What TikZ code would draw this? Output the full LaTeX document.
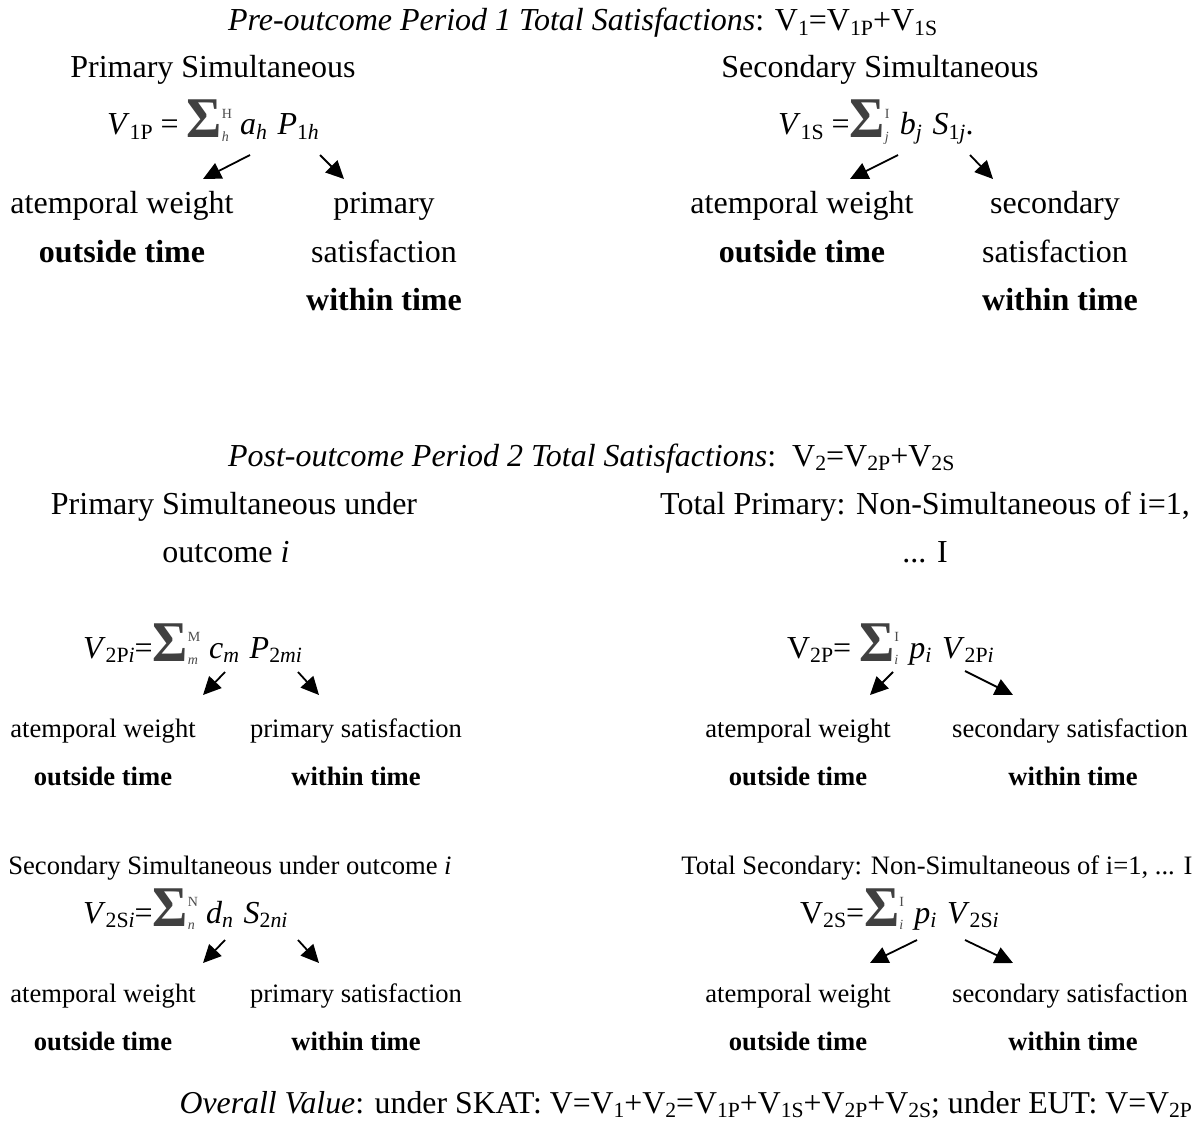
\documentclass[tikz,border=0pt]{standalone}
\usepackage{fontspec}
\usepackage{graphicx}
\setmainfont{Liberation Serif}
\usetikzlibrary{arrows.meta}
\newcommand{\sgm}[2]{\raisebox{-3pt}{\color{black!75}\scalebox{1.12}[1.2]{\fontsize{48}{48}\selectfont\bfseries Σ}}\makebox[0pt][l]{\raisebox{17pt}{\color{black!70}\fontsize{14}{14}\selectfont #1}}\raisebox{-6pt}{\color{black!70}\fontsize{14}{14}\selectfont\itshape #2}\hspace{0.35em}}
\newcommand{\sbs}[1]{\raisebox{-0.14em}{\scalebox{0.68}{#1}}}
\begin{document}
\begin{tikzpicture}[x=1pt,y=-1pt,
  every node/.style={inner sep=0pt,outer sep=0pt,anchor=base},
  big/.style={font=\fontsize{32}{38}\selectfont},
  sml/.style={font=\fontsize{26.6}{32}\selectfont},
  bsml/.style={font=\fontsize{26.6}{32}\selectfont\bfseries},
  bbig/.style={font=\fontsize{32}{38}\selectfont\bfseries},
  arr/.style={line width=1.8pt,-{Triangle[length=18pt,width=17pt]}}]
\useasboundingbox[fill=white] (0,0) rectangle (1193,1121);

% ---- Period 1 ----
\node[big,anchor=base west] (t1) at (228,31) {\textit{Pre-outcome Period 1 Total Satisfactions}: V\sbs{1}=V\sbs{1P}+V\sbs{1S}};

\node[big] (h1) at (213,78) {Primary Simultaneous};
\node[big,anchor=base west] (f1) at (107,135) {\textit{V}\sbs{1P} = \sgm{H}{h}\textit{a}\sbs{\textit{h}}\,\,\textit{P}\sbs{1\textit{h}}};
\node[big] (w1) at (122,213) {atemporal weight};
\node[bbig] (o1) at (122,262) {outside time};
\node[big] (p1) at (384,213) {primary};
\node[big] (s1) at (384,262) {satisfaction};
\node[bbig] (i1) at (384,310) {within time};
\coordinate (a1s) at (250,155); \coordinate (a1e) at (203,179);
\coordinate (b1s) at (320,155); \coordinate (b1e) at (344,179);
\draw[arr] (a1s) -- (a1e);
\draw[arr] (b1s) -- (b1e);

\node[big] (h2) at (880,78) {Secondary Simultaneous};
\node[big,anchor=base west] (f2) at (778,135) {\textit{V}\sbs{1S} =\sgm{I}{j}\textit{b}\sbs{\textit{j}}\,\,\textit{S}\sbs{1\textit{j}}.};
\node[big] (w2) at (802,213) {atemporal weight};
\node[bbig] (o2) at (802,262) {outside time};
\node[big] (p2) at (1055,213) {secondary};
\node[big] (s2) at (1055,262) {satisfaction};
\node[bbig] (i2) at (1060,310) {within time};
\coordinate (a2s) at (898,155); \coordinate (a2e) at (850,179);
\coordinate (b2s) at (970,155); \coordinate (b2e) at (993,179);
\draw[arr] (a2s) -- (a2e);
\draw[arr] (b2s) -- (b2e);

% ---- Period 2 ----
\node[big,anchor=base west] (t2) at (228,466) {\textit{Post-outcome Period 2 Total Satisfactions}:\ \ V\sbs{2}=V\sbs{2P}+V\sbs{2S}};

\node[big] (h3) at (234,514) {Primary Simultaneous under};
\node[big] (h3b) at (226,562) {outcome \textit{i}};
\node[big] (h4) at (925,514) {Total Primary: Non-Simultaneous of i=1,};
\node[big] (h4b) at (925,562) {... I};

\node[big,anchor=base west] (f3) at (83,658) {\textit{V}\sbs{2P\textit{i}}=\sgm{M}{m}\textit{c}\sbs{\textit{m}}\,\,\textit{P}\sbs{2\textit{mi}}};
\node[sml] (w3) at (103,737) {atemporal weight};
\node[bsml] (o3) at (103,785) {outside time};
\node[sml] (p3) at (356,737) {primary satisfaction};
\node[bsml] (i3) at (356,785) {within time};
\coordinate (a3s) at (225,672); \coordinate (a3e) at (203,695);
\coordinate (b3s) at (298,672); \coordinate (b3e) at (319,695);
\draw[arr] (a3s) -- (a3e);
\draw[arr] (b3s) -- (b3e);

\node[big,anchor=base west] (f4) at (787,658) {V\sbs{2P}= \sgm{I}{i}\textit{p}\sbs{\textit{i}}\,\,\textit{V}\sbs{2P\textit{i}}};
\node[sml] (w4) at (798,737) {atemporal weight};
\node[bsml] (o4) at (798,785) {outside time};
\node[sml] (p4) at (1070,737) {secondary satisfaction};
\node[bsml] (i4) at (1073,785) {within time};
\coordinate (a4s) at (893,672); \coordinate (a4e) at (870,695);
\coordinate (b4s) at (965,671); \coordinate (b4e) at (1013,695);
\draw[arr] (a4s) -- (a4e);
\draw[arr] (b4s) -- (b4e);

\node[sml] (h5) at (230,874) {Secondary Simultaneous under outcome \textit{i}};
\node[big,anchor=base west] (f5) at (83,923) {\textit{V}\sbs{2S\textit{i}}=\sgm{N}{n}\textit{d}\sbs{\textit{n}}\,\,\textit{S}\sbs{2\textit{ni}}};
\node[sml] (w5) at (103,1002) {atemporal weight};
\node[bsml] (o5) at (103,1050) {outside time};
\node[sml] (p5) at (356,1002) {primary satisfaction};
\node[bsml] (i5) at (356,1050) {within time};
\coordinate (a5s) at (225,940); \coordinate (a5e) at (203,963);
\coordinate (b5s) at (298,940); \coordinate (b5e) at (319,963);
\draw[arr] (a5s) -- (a5e);
\draw[arr] (b5s) -- (b5e);

\node[sml] (h6) at (937,874) {Total Secondary: Non-Simultaneous of i=1, ... I};
\node[big,anchor=base west] (f6) at (800,923) {V\sbs{2S}=\sgm{I}{i}\textit{p}\sbs{\textit{i}}\,\,\textit{V}\sbs{2S\textit{i}}};
\node[sml] (w6) at (798,1002) {atemporal weight};
\node[bsml] (o6) at (798,1050) {outside time};
\node[sml] (p6) at (1070,1002) {secondary satisfaction};
\node[bsml] (i6) at (1073,1050) {within time};
\coordinate (a6s) at (917,940); \coordinate (a6e) at (870,963);
\coordinate (b6s) at (965,940); \coordinate (b6e) at (1013,963);
\draw[arr] (a6s) -- (a6e);
\draw[arr] (b6s) -- (b6e);

\node[font=\fontsize{31.8}{36}\selectfont,anchor=base east] (ov) at (1192,1113) {\textit{Overall Value}: under SKAT: V=V\sbs{1}+V\sbs{2}=V\sbs{1P}+V\sbs{1S}+V\sbs{2P}+V\sbs{2S}; under EUT: V=V\sbs{2P}};
\end{tikzpicture}
\end{document}
